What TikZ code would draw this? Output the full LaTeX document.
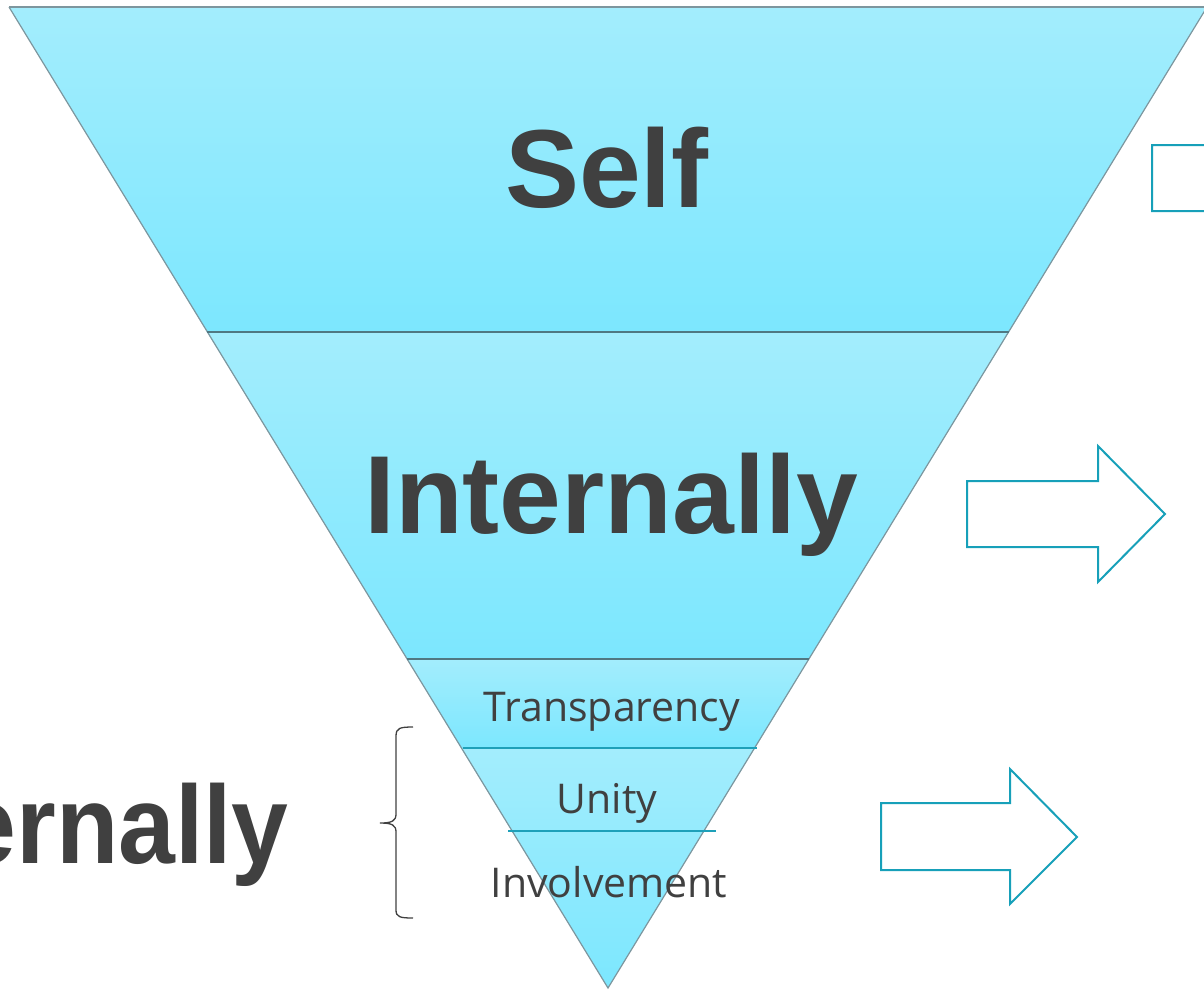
\documentclass[tikz,border=0pt]{standalone}
\usepackage{fontspec}
\newfontfamily\headfont{Liberation Sans}
\newfontfamily\labfont{Open Sans}
\definecolor{bandtop}{RGB}{163,237,253}
\definecolor{bandbot}{RGB}{124,231,254}
\definecolor{txtgray}{RGB}{64,64,64}
\definecolor{edgegray}{RGB}{125,150,158}
\definecolor{sepdark}{RGB}{80,120,130}
\definecolor{tealline}{RGB}{30,160,185}
\definecolor{arrowteal}{RGB}{23,160,185}
\tikzset{
  band/.style={top color=bandtop, bottom color=bandbot, draw=none},
  sideedge/.style={draw=edgegray, line width=1.2pt},
  sepline/.style={draw=sepdark, line width=2pt},
  tealsep/.style={draw=tealline, line width=1.6pt},
  bigtext/.style={text=txtgray, font=\headfont\bfseries\fontsize{111}{120}\selectfont, inner sep=0pt},
  smalltext/.style={text=txtgray, font=\labfont\fontsize{41}{48}\selectfont, inner sep=0pt},
  hollowarrow/.style={draw=arrowteal, line width=2pt, fill=white, line join=miter},
  bracestyle/.style={draw=txtgray, line width=1.3pt}
}
\begin{document}
\begin{tikzpicture}[x=1pt,y=-1pt]
\useasboundingbox (0,0) rectangle (1204,994);
\clip (0,0) rectangle (1204,994);
% bands
\path[band] (9,7) -- (1207,7) -- (1009,332) -- (207,332) -- cycle;
\path[band] (207,332) -- (1009,332) -- (809,659) -- (407,659) -- cycle;
\path[band] (407,659) -- (809,659) -- (755,748) -- (461,748) -- cycle;
\path[band] (461,748) -- (755,748) -- (608,988) -- cycle;
% outline
\draw[sideedge] (9,7) -- (1207,7);
\draw[sideedge] (9,7) -- (608,988) -- (1207,7);
\draw[sepline] (207,332) -- (1009,332);
\draw[sepline] (407,659) -- (809,659);
\draw[tealsep] (463,748) -- (757,748);
\draw[tealsep] (508,831) -- (716,831);
% texts
\node[bigtext, anchor=base] (self) at (607,207) {Self};
\node[bigtext, anchor=base] (internally) at (611,533) {Internally};
\node[bigtext, anchor=base east] (externally) at (289,863) {\scalebox{0.92}[1]{Externally}};
\node[smalltext, anchor=base] (transparency) at (612,721) {Transparency};
\node[smalltext, anchor=base] (unity) at (607,813) {Unity};
\node[smalltext, anchor=base] (involvement) at (609,897) {Involvement};
% brace
\coordinate (bracetop) at (413,727);
\coordinate (bracetip) at (380,823);
\coordinate (bracebot) at (413,918);
\draw[bracestyle] (bracetop) .. controls (400,727) and (396,728) .. (396,736) -- (396,814)
  .. controls (396,821) and (392,823) .. (bracetip)
  .. controls (392,823) and (396,825) .. (396,832) -- (396,910)
  .. controls (396,917) and (400,918) .. (bracebot);
% arrows
\draw[hollowarrow] (1152,145) -- (1283,145) -- (1283,110) -- (1350,178) -- (1283,246) -- (1283,211) -- (1152,211) -- cycle;
\draw[hollowarrow] (967,481) -- (1098,481) -- (1098,446) -- (1165,514) -- (1098,582) -- (1098,547) -- (967,547) -- cycle;
\draw[hollowarrow] (881,803) -- (1010,803) -- (1010,769) -- (1077,837) -- (1010,904) -- (1010,870) -- (881,870) -- cycle;
\end{tikzpicture}
\end{document}
